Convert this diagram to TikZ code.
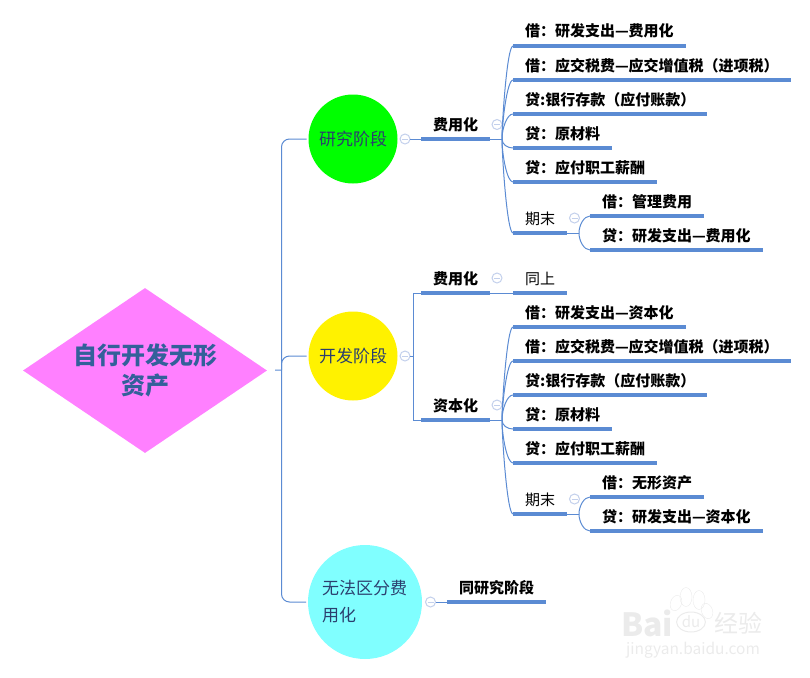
\documentclass[tikz,border=0pt]{standalone}
\usepackage{fontspec}
\setmainfont{Noto Sans CJK SC}
\usepackage{tikz}
\usetikzlibrary{shapes.geometric}
\usetikzlibrary{positioning}
\definecolor{rootpink}{HTML}{FF80FF}
\definecolor{mixedcyan}{HTML}{80FFFF}
\definecolor{linkblue}{HTML}{5B8BD3}
\definecolor{titleblue}{HTML}{33609A}
\definecolor{stageink}{HTML}{2B3F6E}
\definecolor{toggleblue}{HTML}{C3D0EC}

\begin{document}
\begin{tikzpicture}[x=1pt,y=-1pt,
	link/.style={draw=linkblue,line width=1pt},
	up/.style={out=90,in=180,out max distance=16pt,in max distance=6pt},
	down/.style={out=-90,in=180,out max distance=16pt,in max distance=6pt},
	root node/.style={diamond,fill=rootpink,inner sep=0pt,aspect=1.48,minimum width=244pt,minimum height=165pt,text width=150pt,align=center,font=\fontsize{24}{30}\selectfont\bfseries,text=titleblue},
	main node/.style={circle,inner sep=0pt,outer sep=2pt,minimum size=89pt,font=\fontsize{17}{27}\selectfont,text=stageink},
	leaf node/.style={anchor=south west,inner xsep=12pt,inner ysep=7pt,outer sep=0pt,text height=12pt,text depth=2pt,font=\fontsize{15}{15}\selectfont\bfseries,
		append after command={(\tikzlastnode.south west) edge[draw=linkblue,line width=3.4pt] (\tikzlastnode.south east)}},
	plain leaf/.style={leaf node,font=\fontsize{15}{15}\selectfont},
	next leaf/.style={below=34pt of #1.south west,anchor=south west},
	toggle node/.style={circle,draw=toggleblue,fill=white,line width=1pt,inner sep=0pt,outer sep=0pt,minimum size=10pt,
		path picture={\draw[toggleblue,line width=1pt] ([xshift=2pt]path picture bounding box.west) -- ([xshift=-2pt]path picture bounding box.east);}},
	mark text/.style={text=black!8,font=\bfseries}]
	
	\useasboundingbox (0,0) rectangle (810,677);
	
	\node[root node] (root) at (145,370.5) {自行开发无形\\资产};
	\node[main node,fill=green] (research) at (353,139) {研究阶段};
	\node[main node,fill=yellow] (develop) at (353,356) {开发阶段};
	\node[main node,fill=mixedcyan,minimum size=114pt,text width=86pt,align=left] (mixed) at (365,602) {无法区分费\\用化};
	
	\coordinate (trunk) at (281.5,370);
	
	% research stage
	\node[toggle node] (t1) at (405,139) {};
	\node[leaf node] (rcost) at (421,139) {费用化};
	\node[toggle node] (t2) at (497,124.5) {};
	\coordinate (fork1) at (502,139);
	\node[leaf node] (r1) at (513,46) {借：研发支出—费用化};
	\node[leaf node,next leaf=r1] (r2) {借：应交税费—应交增值税（进项税）};
	\node[leaf node,next leaf=r2] (r3) {贷:银行存款（应付账款）};
	\node[leaf node,next leaf=r3] (r4) {贷：原材料};
	\node[leaf node,next leaf=r4] (r5) {贷：应付职工薪酬};
	\node[plain leaf] (r6) at (513,233) {期末};
	\node[toggle node] (t3) at (574.5,218) {};
	\coordinate (fork2) at (579,233);
	\node[leaf node] (r7) at (590,216) {借：管理费用};
	\node[leaf node,next leaf=r7] (r8) {贷：研发支出—费用化};
	
	% development stage
	\node[toggle node] (t4) at (405,356) {};
	\coordinate (fork3) at (413.5,356);
	\node[leaf node] (dcost) at (421,293) {费用化};
	\node[toggle node] (t5) at (497,278) {};
	\node[plain leaf] (same) at (513,293) {同上};
	\node[leaf node] (dcap) at (421,420) {资本化};
	\node[toggle node] (t6) at (497,405) {};
	\coordinate (fork4) at (502,420);
	\node[leaf node] (d1) at (513,327) {借：研发支出—资本化};
	\node[leaf node,next leaf=d1] (d2) {借：应交税费—应交增值税（进项税）};
	\node[leaf node,next leaf=d2] (d3) {贷:银行存款（应付账款）};
	\node[leaf node,next leaf=d3] (d4) {贷：原材料};
	\node[leaf node,next leaf=d4] (d5) {贷：应付职工薪酬};
	\node[plain leaf] (d6) at (513,514) {期末};
	\node[toggle node] (t7) at (574.5,499) {};
	\coordinate (fork5) at (579,514);
	\node[leaf node] (d7) at (590,497) {借：无形资产};
	\node[leaf node,next leaf=d7] (d8) {贷：研发支出—资本化};
	
	% third stage
	\node[toggle node] (t8) at (430.5,602) {};
	\node[leaf node] (m1) at (447,602) {同研究阶段};
	
	\draw[link,shorten <=8pt] (root.east) -- (trunk);
	\draw[link,rounded corners=8pt] (trunk) |- (research.west);
	\draw[link,rounded corners=8pt] (trunk) |- (develop.west);
	\draw[link,rounded corners=8pt] (trunk) |- (mixed.west);
	
	\path[link]
	(t1) edge (rcost.south west)
	(rcost.south east) edge (fork1)
	(fork1) edge [up] (r1.south west)
	(fork1) edge [up] (r2.south west)
	(fork1) edge [up] (r3.south west)
	(fork1) edge [down] (r4.south west)
	(fork1) edge [down] (r5.south west)
	(fork1) edge [down] (r6.south west)
	(r6.south east) edge (fork2)
	(fork2) edge [up] (r7.south west)
	(fork2) edge [down] (r8.south west);
	
	\path[link]
	(t4) edge (fork3)
	(fork3) edge [to path={|- (\tikztotarget)}] (dcost.south west)
	(fork3) edge [to path={|- (\tikztotarget)}] (dcap.south west)
	(dcost.south east) edge (same.south west)
	(dcap.south east) edge (fork4)
	(fork4) edge [up] (d1.south west)
	(fork4) edge [up] (d2.south west)
	(fork4) edge [up] (d3.south west)
	(fork4) edge [down] (d4.south west)
	(fork4) edge [down] (d5.south west)
	(fork4) edge [down] (d6.south west)
	(d6.south east) edge (fork5)
	(fork5) edge [up] (d7.south west)
	(fork5) edge [down] (d8.south west);
	
	\path[link] (t8) edge (m1.south west);
	
	% watermark
	\node[mark text,font=\fontsize{32}{32}\selectfont\bfseries] (markbai) at (647,623) {Bai};
	\node[mark text,draw=black!8,ellipse,line width=1pt,inner sep=1pt,font=\fontsize{15}{15}\selectfont] (markdu) at (691,622) {du};
	\node[mark text,font=\fontsize{24}{24}\selectfont] (markjy) at (738,623) {经验};
	\node[mark text,font=\fontsize{15.5}{16}\selectfont] (markurl) at (693,650) {jingyan.baidu.com};
	\node[draw=black!8,ellipse,rotate=-20,minimum width=11pt,minimum height=16pt,inner sep=0pt] (paw1) at (676,603) {};
	\node[draw=black!8,ellipse,minimum width=12pt,minimum height=19pt,inner sep=0pt] (paw2) at (686,597) {};
	\node[draw=black!8,ellipse,minimum width=12pt,minimum height=19pt,inner sep=0pt] (paw3) at (699,600) {};
	\node[draw=black!8,ellipse,rotate=20,minimum width=11pt,minimum height=16pt,inner sep=0pt] (paw4) at (707,611) {};
\end{tikzpicture}
\end{document}
